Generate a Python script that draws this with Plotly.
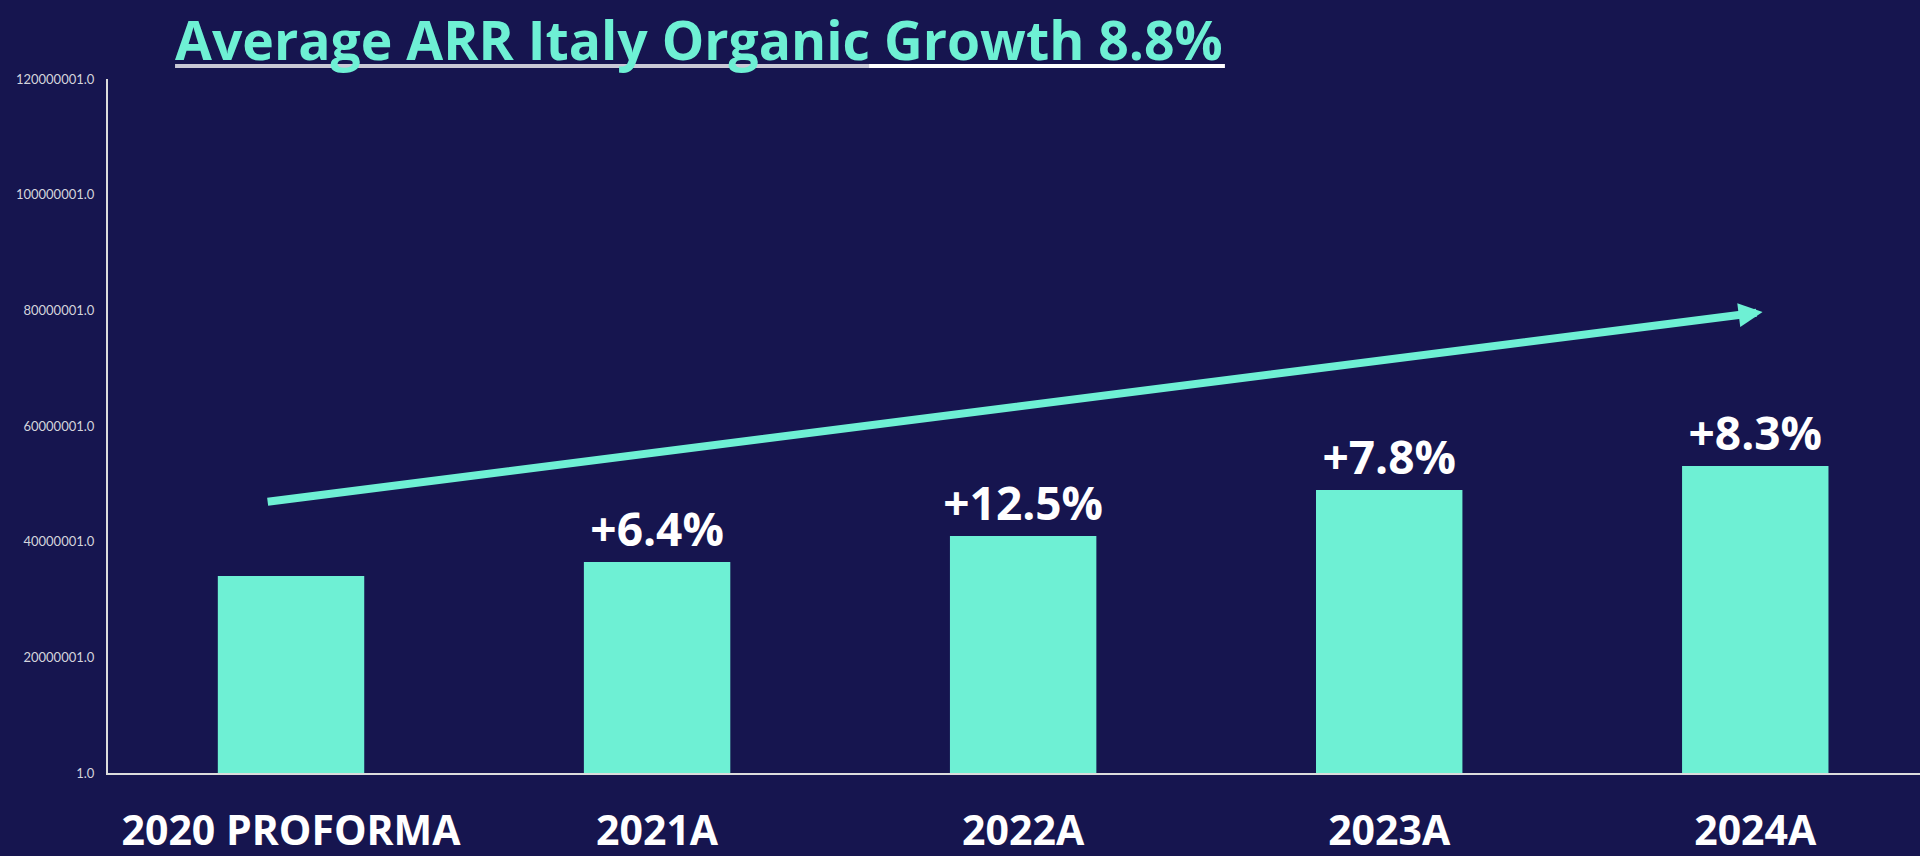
import plotly.graph_objects as go

# data
categories = ["2020 PROFORMA", "2021A", "2022A", "2023A", "2024A"]
arr_values = [34.06e6, 36.48e6, 40.98e6, 48.93e6, 53.08e6]
growth_labels = ["", "+6.4%", "+12.5%", "+7.8%", "+8.3%"]

# trend arrow (start -> tip), in category index / value units
arrow_x = [-0.068, 4.02]
arrow_y = [46.86e6, 79.71e6]

BG = "#16154f"
AQUA = "#6ef0d4"
AXIS_GRAY = "#dcdcdc"

fig = go.Figure()

fig.add_trace(go.Bar(
    x=categories,
    y=arr_values,
    width=0.4,
    marker=dict(color=AQUA, line=dict(width=0)),
    text=growth_labels,
    textposition="outside",
    textfont=dict(family="Open Sans", size=46, color="white", weight="bold"),
    constraintext="none",
    cliponaxis=False,
    hoverinfo="skip",
))

# growth arrow
fig.add_annotation(
    x=arrow_x[1], y=arrow_y[1], xref="x", yref="y",
    ax=arrow_x[0], ay=arrow_y[0], axref="x", ayref="y",
    text="", showarrow=True,
    arrowhead=2, arrowsize=0.6, arrowwidth=8, arrowcolor=AQUA,
)

# underline of the title
fig.add_shape(type="line", xref="paper", yref="paper",
              x0=0.037, x1=0.42, y0=1.0187, y1=1.0187,
              line=dict(color="#c9c9d6", width=4))
fig.add_shape(type="line", xref="paper", yref="paper",
              x0=0.42, x1=0.6164, y0=1.0187, y1=1.0187,
              line=dict(color="white", width=4))

fig.update_layout(
    width=1920,
    height=856,
    title=dict(
        text="Average ARR Italy Organic Growth 8.8%",
        font=dict(family="Open Sans", size=53.5, color=AQUA, weight="bold"),
        xref="container", x=175 / 1920, xanchor="left",
        yref="container", y=0.9765, yanchor="top",
        pad=dict(t=2),
    ),
    xaxis=dict(
        range=[-0.5, 4.45],
        showline=True, linecolor=AXIS_GRAY, linewidth=2,
        showgrid=False, zeroline=False, automargin=False,
        ticks="outside", ticklen=21, tickcolor="rgba(0,0,0,0)",
        tickfont=dict(family="Open Sans", size=41, color="white", weight="bold"),
    ),
    yaxis=dict(
        range=[1, 120000001],
        tickmode="linear", tick0=1, dtick=20000000, tickformat=".1f",
        showline=True, linecolor=AXIS_GRAY, linewidth=2,
        showgrid=False, zeroline=False, automargin=False,
        ticks="outside", ticklen=9, tickcolor="rgba(0,0,0,0)",
        tickfont=dict(family="Lato", size=13, color="#d4d4dc"),
    ),
    paper_bgcolor=BG,
    plot_bgcolor=BG,
    showlegend=False,
    margin=dict(t=79, b=83, l=108, r=0),
)

# drop the default page margin so the figure fills the window
fig.write_html("out.html", config={"displayModeBar": False},
               post_script="document.body.style.margin='0';")
